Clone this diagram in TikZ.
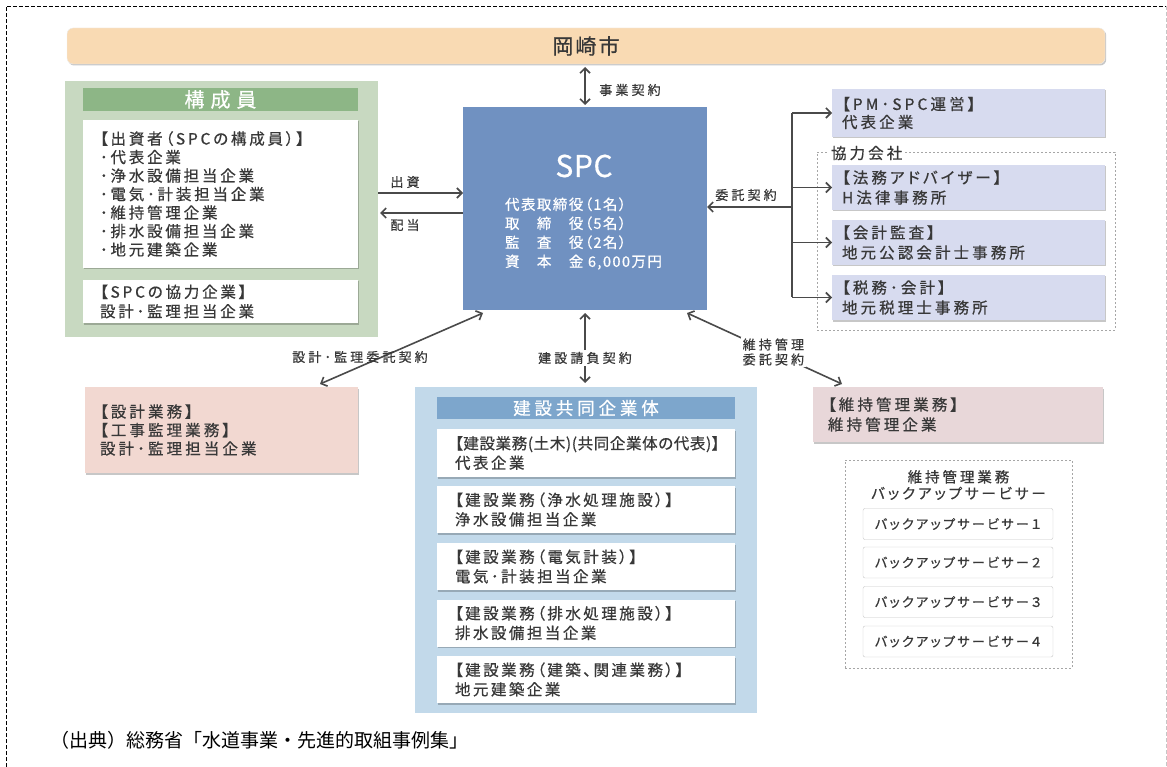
\documentclass[tikz,border=0pt]{standalone}
\usepackage{fontspec}
\setmainfont{Noto Sans CJK JP}[RawFeature=+palt]
\newfontfamily\capfont{Noto Sans CJK JP}
\usetikzlibrary{arrows.meta,shadows}
\definecolor{txt}{HTML}{383838}
\definecolor{linec}{HTML}{4A4A4A}
\definecolor{barC}{HTML}{F9DAB3}
\definecolor{grnL}{HTML}{C8D9C1}
\definecolor{grnD}{HTML}{8DB686}
\definecolor{spcC}{HTML}{7091C1}
\definecolor{lavC}{HTML}{D7DBEF}
\definecolor{pinkC}{HTML}{F2D8D1}
\definecolor{mtC}{HTML}{E8D7D9}
\definecolor{jvL}{HTML}{C2D9EA}
\definecolor{jvD}{HTML}{7DA6CC}
\newcommand\fs[3]{\fontsize{#1}{#2}\selectfont\addfontfeatures{LetterSpace=#3,FakeBold=0.6}}
\begin{document}
\begin{tikzpicture}[x=1pt,y=-1pt,
  shd/.style={drop shadow={shadow xshift=1.2pt,shadow yshift=-1.5pt,opacity=0.22,fill=black}},
  plain/.style={inner sep=0pt,outer sep=0pt},
  tbox/.style={plain,align=left,text=txt},
  wbox/.style={tbox,fill=white,shd},
  lbl/.style={inner sep=1.5pt,text=txt,font=\fs{13}{15}{24}},
  tip/.tip={Straight Barb[length=5pt,width=10pt]},
  arr/.style={draw=linec,line width=1.6pt},
  gdash/.style={draw=gray!70,line width=0.8pt,dash pattern=on 2pt off 2pt}
]
\useasboundingbox (0,0) rectangle (1167,767);
% outer border
\draw[black,line width=0.8pt,dash pattern=on 4pt off 2pt] (6,767) -- (6,6) -- (1166,6);
\draw[gray!45,line width=0.8pt,dash pattern=on 4pt off 2pt] (1166,6) -- (1166,767);

% city bar
\node[plain,fill=barC,draw=white!85!gray,rounded corners=6pt,shd,minimum width=1038pt,minimum height=36pt,text=txt,font=\fs{21}{24}{10}] (city) at (586,46) {岡崎市};

% SPC
\node[plain,fill=spcC,minimum width=244pt,minimum height=203pt] (spc) at (585,208.5) {};
\node[plain,text=white,font=\fs{30}{32}{2}] (spct) at (584,166) {SPC};
\node[plain,anchor=west,align=left,text=white,font=\fs{14.5}{19}{10}] (spcl) at (505,233.5) {代表取締役（1名）\\取　締　役（5名）\\監　査　役（2名）\\資　本　金 6,000万円};

% members panel
\node[plain,fill=grnL,minimum width=313pt,minimum height=256pt] (mem) at (221.5,209) {};
\node[plain,fill=grnD,minimum width=275pt,minimum height=23pt,text=white,font=\fs{20}{22}{30}] (memh) at (220.5,99.5) {構成員};
\node[wbox,minimum width=275pt,minimum height=148pt,text width=241pt,inner xsep=17pt,font=\fs{15.5}{18.5}{18}] (inv) at (220.5,194) {【出資者（SPCの構成員）】\\･代表企業\\･浄水設備担当企業\\･電気･計装担当企業\\･維持管理企業\\･排水設備担当企業\\･地元建築企業};
\node[wbox,minimum width=275pt,minimum height=43pt,text width=241pt,inner xsep=17pt,font=\fs{15.5}{19.5}{18}] (coopm) at (220.5,301.5) {【SPCの協力企業】\\設計･監理担当企業};

% right side
\node[plain,gdash,minimum width=298pt,minimum height=178pt] (coop) at (966,241) {};
\node[plain,fill=white,inner xsep=2pt,anchor=west,text=txt,font=\fs{15.5}{18}{20}] (coopl) at (829,153) {協力会社};
\node[tbox,fill=lavC,shd,minimum width=273pt,minimum height=48pt,text width=253pt,inner xsep=10pt,font=\fs{15.5}{18}{20}] (pm) at (968.5,113) {【PM･SPC運営】\\代表企業};
\node[tbox,fill=lavC,shd,minimum width=273pt,minimum height=45pt,text width=253pt,inner xsep=10pt,font=\fs{15.5}{20}{20}] (law) at (968.5,187.5) {【法務アドバイザー】\\H法律事務所};
\node[tbox,fill=lavC,shd,minimum width=273pt,minimum height=45pt,text width=253pt,inner xsep=10pt,font=\fs{15.5}{20}{20}] (aud) at (968.5,242.5) {【会計監査】\\地元公認会計士事務所};
\node[tbox,fill=lavC,shd,minimum width=273pt,minimum height=45pt,text width=253pt,inner xsep=10pt,font=\fs{15.5}{20}{20}] (tax) at (968.5,297.5) {【税務･会計】\\地元税理士事務所};

% design box
\node[tbox,fill=pinkC,shd,minimum width=273pt,minimum height=86pt,text width=243pt,inner xsep=15pt,font=\fs{15.5}{18.5}{20}] (des) at (221.5,430) {【設計業務】\\【工事監理業務】\\設計･監理担当企業};

% construction JV
\node[plain,fill=jvL,minimum width=342pt,minimum height=326pt] (jv) at (586,550) {};
\node[plain,fill=jvD,minimum width=298pt,minimum height=22pt,text=white,font=\fs{17.5}{20}{22}] (jvh) at (586,408) {建設共同企業体};
\node[wbox,minimum width=298pt,minimum height=48pt,text width=262pt,inner xsep=18pt,font=\fs{15.5}{19.5}{16}] (jv1) at (586,453) {{\addfontfeatures{LetterSpace=4}【建設業務(土木)(共同企業体の代表)】}\\代表企業};
\node[wbox,minimum width=298pt,minimum height=47pt,text width=262pt,inner xsep=18pt,font=\fs{15.5}{19.5}{16}] (jv2) at (586,509.5) {【建設業務（浄水処理施設）】\\浄水設備担当企業};
\node[wbox,minimum width=298pt,minimum height=47pt,text width=262pt,inner xsep=18pt,font=\fs{15.5}{19.5}{16}] (jv3) at (586,566.5) {【建設業務（電気計装）】\\電気･計装担当企業};
\node[wbox,minimum width=298pt,minimum height=47pt,text width=262pt,inner xsep=18pt,font=\fs{15.5}{19.5}{16}] (jv4) at (586,623) {【建設業務（排水処理施設）】\\排水設備担当企業};
\node[wbox,minimum width=298pt,minimum height=47pt,text width=262pt,inner xsep=18pt,font=\fs{15.5}{19.5}{16}] (jv5) at (586,679.5) {【建設業務（建築、関連業務）】\\地元建築企業};

% maintenance
\node[tbox,fill=mtC,shd,minimum width=290pt,minimum height=55pt,text width=260pt,inner xsep=15pt,font=\fs{15.5}{20}{20}] (mt) at (958,414.5) {【維持管理業務】\\維持管理企業};
\node[plain,gdash,minimum width=227pt,minimum height=208pt] (bu) at (958.5,564) {};
\node[plain,align=center,text=txt,font=\fs{14.5}{16.5}{20}] (but) at (958.5,485) {維持管理業務\\バックアップサービサー};
\node[plain,draw=gray!45,fill=white,rounded corners=2pt,minimum width=190pt,minimum height=31pt,text=txt,font=\fs{13}{15}{18}] (b1) at (958,524) {バックアップサービサー１};
\node[plain,draw=gray!45,fill=white,rounded corners=2pt,minimum width=190pt,minimum height=31pt,text=txt,font=\fs{13}{15}{18}] (b2) at (958,562.5) {バックアップサービサー２};
\node[plain,draw=gray!45,fill=white,rounded corners=2pt,minimum width=190pt,minimum height=31pt,text=txt,font=\fs{13}{15}{18}] (b3) at (958,602) {バックアップサービサー３};
\node[plain,draw=gray!45,fill=white,rounded corners=2pt,minimum width=190pt,minimum height=31pt,text=txt,font=\fs{13}{15}{18}] (b4) at (958,641.5) {バックアップサービサー４};

% connectors
\draw[arr,tip-tip,shorten <=2pt,shorten >=3pt] (spc.north) -- (spc.north |- city.south);
\node[lbl] (l1) at (630,90) {事業契約};

\coordinate (yA) at (0,193);
\coordinate (yB) at (0,213);
\draw[arr,-tip] (mem.east |- yA) -- (spc.west |- yA);
\draw[arr,-tip,shorten >=2pt] (spc.west |- yB) -- (mem.east |- yB);
\node[lbl] (l2) at (405,182) {出資};
\node[lbl] (l3) at (405,225) {配当};

\coordinate (br) at (792,207);
\draw[arr,-tip] (br) -- (spc.east |- br);
\node[lbl] (l4) at (746,195) {委託契約};
\draw[arr] (br |- pm.west) -- (br |- tax.west);
\draw[arr,-tip] (br |- pm.west) -- (pm.west);
\draw[arr,-tip] (br |- law.west) -- (law.west);
\draw[arr,-tip] (br |- aud.west) -- (aud.west);
\draw[arr,-tip] (br |- tax.west) -- (tax.west);

\draw[arr,tip-tip] ([shift={(20,3)}]spc.south west) -- ([shift={(-38,-3)}]des.north east);
\node[lbl] (l5) at (360,357) {設計･監理委託契約};

\draw[arr,tip-tip,shorten <=3pt,shorten >=4pt] (spc.south) -- (spc.south |- jv.north);
\node[lbl,fill=white] (l6) at (585,358) {建設請負契約};

\draw[arr,tip-tip] ([shift={(-20,3)}]spc.south east) -- ([shift={(29,-3)}]mt.north west);
\node[lbl,fill=white,anchor=west,align=left] (l7) at (741,352) {維持管理\\委託契約};

% caption
\node[plain,anchor=west,text=black,font=\capfont\fontsize{19}{22}\selectfont] (cap) at (50,740) {（出典）総務省「水道事業・先進的取組事例集」};
\end{tikzpicture}
\end{document}
